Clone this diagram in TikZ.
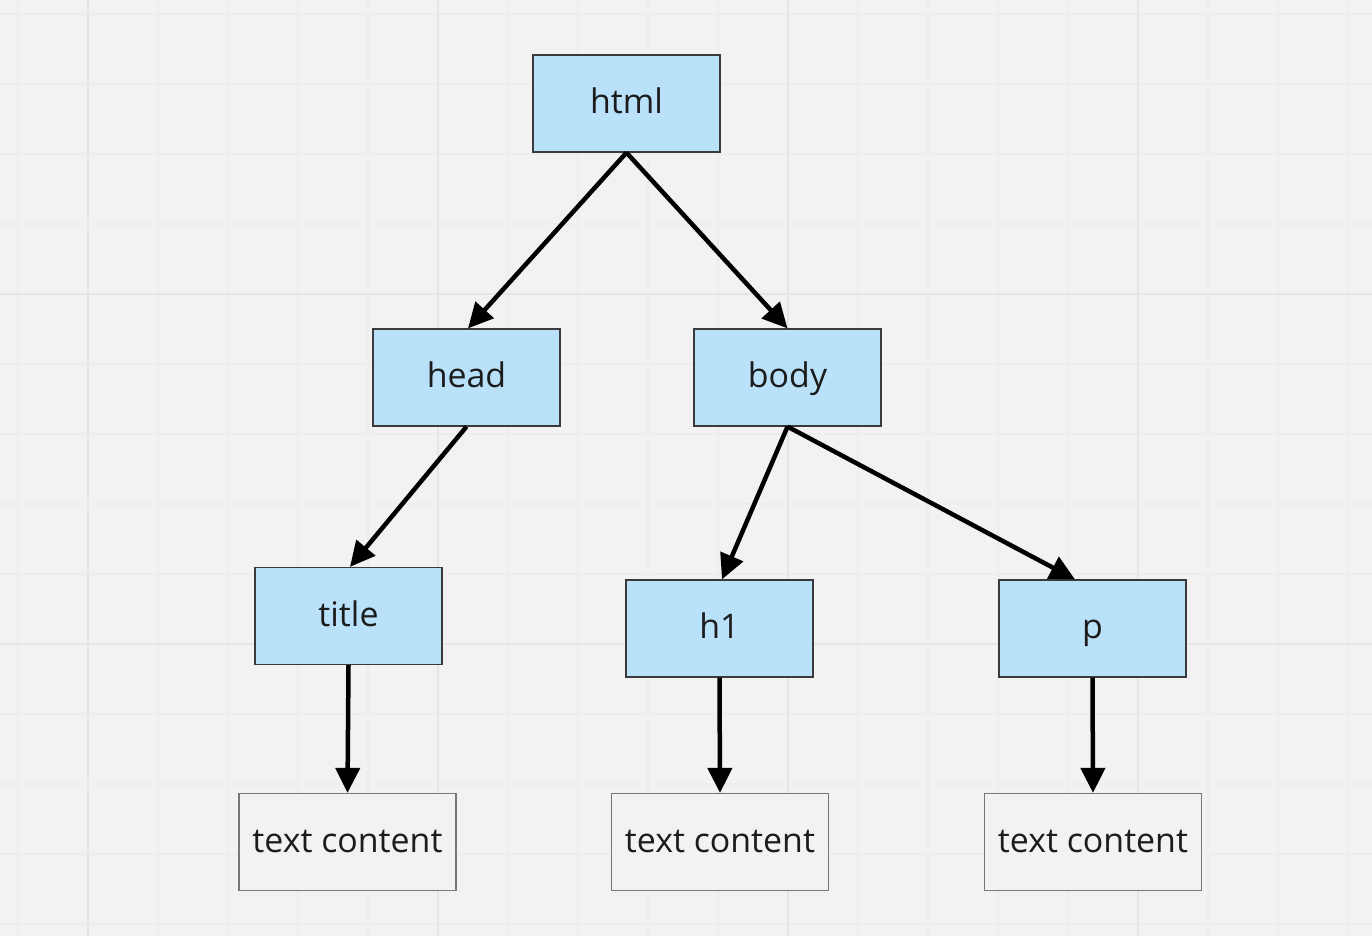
\documentclass[tikz,border=0pt]{standalone}
\usepackage{fontspec}
\setmainfont{Open Sans}
\usepackage{tikz}
\usetikzlibrary{arrows.meta}

\definecolor{canvas}{HTML}{F2F2F2}
\definecolor{gridminor}{HTML}{EDEDED}
\definecolor{gridmajor}{HTML}{E5E5E5}
\definecolor{tagfill}{HTML}{B9E2FA}
\definecolor{tagline}{HTML}{3A3A3A}
\definecolor{leafline}{HTML}{777777}
\definecolor{ink}{HTML}{1C1C1C}

\tikzset{
  tag/.style={draw=tagline, fill=tagfill, line width=0.025cm,
    minimum width=3.74cm, minimum height=1.94cm, inner sep=0pt,
    text height=0.6cm, text depth=0.2cm,
    text=ink, font=\fontsize{19.3}{23}\selectfont},
  leaf/.style={draw=leafline, fill=canvas, line width=0.025cm,
    minimum width=4.34cm, minimum height=1.94cm, inner sep=0pt,
    text height=0.6cm, text depth=0.2cm,
    text=ink, font=\fontsize{19.3}{23}\selectfont},
  edge/.style={line width=0.09cm, -{Triangle[length=0.5cm, width=0.48cm]}}
}

\begin{document}
\begin{tikzpicture}[x=0.02cm, y=-0.02cm]
  % canvas and grid
  \fill[canvas] (0,0) rectangle (1372,936);
  \useasboundingbox (0,0) rectangle (1372,936);
  \foreach \k in {0,...,19}
    \draw[gridminor, line width=0.03cm] (18+70*\k,0) -- (18+70*\k,936);
  \foreach \k in {0,...,13}
    \draw[gridminor, line width=0.03cm] (0,14+70*\k) -- (1372,14+70*\k);
  \foreach \x in {88,438,788,1138}
    \draw[gridmajor, line width=0.05cm] (\x,0) -- (\x,936);
  \foreach \y in {294,644}
    \draw[gridmajor, line width=0.05cm] (0,\y) -- (1372,\y);

  \node[tag] (html) at (626.5,103.5) {html};
  \node[tag] (head) at (466.5,377.5) {head};
  \node[tag] (body) at (787.5,377.5) {body};
  \node[tag] (title) at (348.5,616) {title};
  \node[tag] (h1) at (719.5,628.5) {h1};
  \node[tag] (p) at (1092.5,628.5) {p};

  \node[leaf] (titletext) at (347.5,842) {text content};
  \node[leaf] (h1text) at (720,842) {text content};
  \node[leaf] (ptext) at (1093,842) {text content};

  \draw[edge] (html.south) -- ([xshift=0.03cm]head.north);
  \draw[edge] (html.south) -- (body.north);
  \draw[edge] (head.south) -- ([xshift=0.03cm]title.north);
  \draw[edge] (body.south) -- ([xshift=0.05cm]h1.north);
  \draw[edge] (body.south) -- ([xshift=-0.35cm]p.north);
  \draw[edge] (title.south) -- (titletext.north);
  \draw[edge] (h1.south) -- (h1text.north);
  \draw[edge] (p.south) -- (ptext.north);
\end{tikzpicture}
\end{document}
